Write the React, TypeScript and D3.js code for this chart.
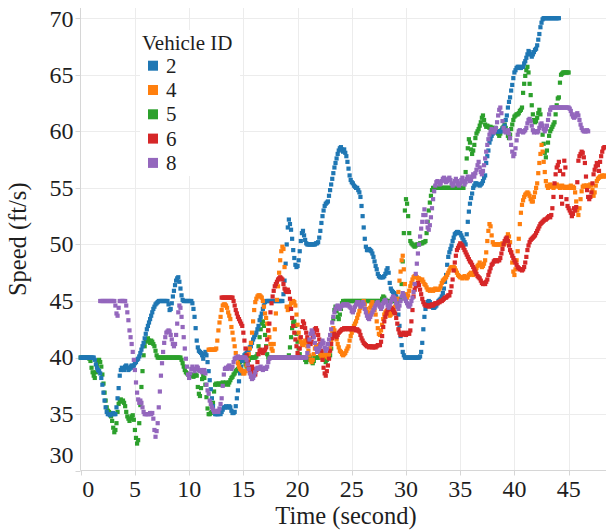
import React from 'react';
import * as d3 from 'd3';

// Canvas
const WIDTH = 606;
const HEIGHT = 530;

// Axes
const xTicks = [0, 5, 10, 15, 20, 25, 30, 35, 40, 45];
const yTicks = [30, 35, 40, 45, 50, 55, 60, 65, 70];
const xDomain = [0, 49];
const yDomain = [30, 70.9];

// Vehicles (legend order) and their colours
const vehicleIds = ['2', '4', '5', '6', '8'];
const vehicleColors = ['#1f77b4', '#ff7f0e', '#2ca02c', '#d62728', '#9467bd'];
// Second at which each vehicle's first speed row begins
const firstSecond = [0, 11, 0, 13, 1];

// Speed (ft/s) sampled every 0.1 s; one row per second
const speed2 = [
  [40, 40, 40, 40, 40, 40, 40, 40, 40, 40],
  [40, 40, 40, 39.8, 39.4, 39.1, 38.9, 38.8, 38.6, 38.2],
  [37.6, 36.9, 36.2, 35.6, 35.2, 35.0, 35.0, 34.9, 35.0, 35.0],
  [35.1, 35.0, 35.0, 35.6, 36.4, 37.3, 38.4, 38.9, 39.1, 39.0],
  [38.9, 39.2, 39.3, 39.1, 38.9, 39.0, 39.2, 39.3, 39.1, 39.3],
  [39.5, 39.6, 39.8, 39.9, 40.1, 40.4, 40.7, 41.0, 41.3, 41.7],
  [42.1, 42.5, 42.8, 43.1, 43.4, 43.7, 44.0, 44.3, 44.5, 44.7],
  [44.8, 44.9, 45, 45, 45, 45, 45, 45, 45, 45],
  [45.0, 44.7, 44.2, 44.3, 44.8, 45.4, 45.9, 46.4, 46.8, 47.0],
  [47.1, 46.7, 46.1, 45.5, 45.1, 45, 45, 45, 45, 45],
  [45, 45, 45, 44.8, 44.3, 43.6, 42.6, 41.5, 40.9, 40.6],
  [40.5, 40.4, 40.2, 39.9, 40.3, 40.5, 40.2, 39.6, 38.8, 38.0],
  [37.2, 36.4, 35.7, 35.2, 35.0, 35.0, 35.0, 35.0, 35.1, 35.0],
  [35.2, 35.4, 35.6, 35.6, 35.7, 35.6, 35.6, 35.7, 35.6, 35.3],
  [35.1, 35.1, 35.2, 35.7, 36.4, 37.1, 37.9, 38.6, 39.2, 39.7],
  [40.0, 40.2, 40.3, 40.4, 40.6, 40.7, 40.9, 41.0, 41.3, 41.6],
  [41.8, 42.0, 42.2, 42.5, 42.8, 43.3, 43.6, 43.9, 44.3, 44.6],
  [44.9, 45, 45, 45, 45, 45, 45, 45, 45, 45],
  [45, 45, 45, 45, 45, 45, 45, 45.6, 46.8, 48.3],
  [50.0, 51.5, 52.2, 51.8, 51.3, 50.5, 49.5, 48.8, 48.2, 48.0],
  [48.1, 48.6, 49.4, 50.3, 51.0, 51.2, 50.8, 50.4, 50.1, 50.0],
  [50, 50, 50, 50, 50, 50, 50, 50.1, 50.1, 50.2],
  [50.6, 51.2, 51.9, 52.5, 53.0, 53.4, 53.6, 53.7, 53.8, 54.3],
  [54.8, 55.3, 55.8, 56.3, 56.8, 57.2, 57.6, 58.0, 58.3, 58.5],
  [58.6, 58.4, 58.2, 58.4, 58.1, 57.8, 57.3, 56.7, 56.1, 55.7],
  [55.5, 55.4, 55.2, 55.1, 55.0, 55.0, 54.8, 54.6, 54.2, 53.4],
  [52.5, 51.5, 50.5, 49.8, 49.5, 49.5, 49.6, 49.5, 49.4, 49.2],
  [48.9, 48.5, 48.1, 47.8, 47.4, 47.2, 47.1, 47.1, 47.1, 47.1],
  [47.2, 47.4, 47.7, 47.9, 47.5, 46.6, 46.1, 45.9, 45.8, 45.7],
  [45.6, 45.4, 44.8, 43.8, 42.8, 41.9, 41.1, 40.5, 40.2, 40.0],
  [40, 40, 40, 40, 40, 40, 40, 40, 40, 40],
  [40, 40, 40, 40.1, 40.5, 41.3, 42.5, 43.6, 44.3, 44.7],
  [44.9, 45.0, 44.9, 44.7, 44.5, 44.4, 44.4, 44.5, 44.6, 44.8],
  [45.0, 45.1, 45.2, 45.4, 45.7, 46.1, 46.7, 47.3, 48.2, 48.9],
  [49.3, 49.6, 49.9, 50.3, 50.6, 50.9, 51.0, 51.1, 51.1, 51.0],
  [51.0, 50.8, 50.6, 50.4, 50.2, 50.0, 50.9, 52.0, 52.9, 53.6],
  [54.1, 54.5, 55.0, 55.2, 55.4, 55.4, 55.3, 55.3, 55.2, 55.3],
  [55.4, 55.6, 55.9, 56.1, 57.2, 57.8, 58.3, 59.0, 59.3, 59.6],
  [59.8, 59.9, 60, 60, 60, 60, 60, 60, 60, 60.2],
  [60.3, 60.5, 61.0, 61.4, 62.1, 62.6, 63.0, 63.6, 64.1, 64.7],
  [65.2, 65.4, 65.6, 65.7, 65.7, 65.6, 65.6, 65.7, 65.7, 66.0],
  [66.2, 66.5, 66.8, 67.1, 67.0, 66.8, 66.6, 66.8, 67.0, 67.2],
  [67.3, 67.6, 68.1, 68.6, 69.2, 69.6, 69.9, 70, 70, 70],
  [70, 70, 70, 70, 70, 70, 70, 70, 70, 70],
  [70, 70],
];

const speed4 = [
  [null, null, null, null, null, null, null, null, 40.7, 40.7],
  [40.7, 40.7, 40.7, 40.7, 40.7, 40.8, 41.5, 42.4, 43.1, 43.6],
  [44.2, 44.6, 44.7, 44.7, 44.6, 44.4, 44.0, 43.7, 43.4, 42.7],
  [42.2, 41.6, 41.0, 40.4, 39.9, 39.5, 39.2, 39.0, 38.9, 38.8],
  [38.6, 38.6, 38.8, 39.3, 39.8, 40.3, 40.8, 41.3, 42.2, 43.2],
  [44.2, 44.9, 45.2, 45.4, 45.5, 45.5, 45.4, 45.3, 45.0, 44.5],
  [43.9, 43.5, 43.0, 42.4, 41.8, 41.2, 40.8, 40.6, 41.2, 42.5],
  [43.9, 45.1, 46.3, 47.5, 48.6, 49.4, 49.8, 49.6, 48.0, 46.0],
  [44.5, 44.2, 44.3, 44.5, 44.8, 44.9, 45.0, 44.9, 44.6, 43.8],
  [42.9, 42.2, 41.7, 41.4, 41.2, 41.1, 41.3, 41.5, 41.3, 41.0],
  [40.6, 40.2, 39.8, 39.6, 39.8, 40.3, 40.8, 41.1, 41.0, 40.8],
  [40.6, 40.3, 40.1, 40.0, 40.2, 40.4, 40.3, 40.1, 40.0, 40.3],
  [40.8, 41.5, 42.2, 42.6, 42.4, 42.0, 41.6, 41.2, 40.9, 40.6],
  [40.5, 40.3, 40.2, 40.3, 40.4, 40.6, 40.8, 41.0, 41.5, 41.9],
  [42.2, 42.5, 42.8, 43.0, 43.2, 43.5, 43.8, 44.1, 44.4, 44.6],
  [44.8, 45.0, 44.7, 44.3, 44.0, 43.8, 44.0, 44.4, 44.7, 44.9],
  [44.6, 44.2, 43.8, 43.2, 42.6, 42.1, 42.0, 42.4, 42.9, 43.4],
  [43.8, 44.0, 44.1, 44.0, 43.9, 43.7, 43.8, 44.0, 44.2, 44.3],
  [44.5, 44.8, 45.2, 45.8, 46.8, 47.6, 48.6, 49.0, 47.8, 46.5],
  [45.6, 45.3, 45.5, 45.9, 46.3, 46.6, 46.9, 47.1, 47.2, 47.2],
  [47.1, 47.0, 47.0, 46.9, 46.8, 46.9, 46.7, 46.5, 46.4, 46.2],
  [46.0, 46.0, 45.9, 46.0, 46.0, 45.9, 46.0, 46.1, 46.0, 46.0],
  [46.0, 46.1, 46.3, 46.6, 46.8, 46.9, 47.0, 47.1, 47.3, 47.5],
  [47.7, 47.9, 48.0, 48.0, 48.0, 47.9, 47.7, 47.5, 47.3, 47.2],
  [47.1, 47.1, 47.0, 47.1, 47.2, 47.1, 47.0, 47.1, 47.3, 47.4],
  [47.5, 47.4, 47.3, 47.5, 47.7, 47.9, 48.1, 48.2, 48.4, 48.2],
  [48.0, 48.1, 48.3, 48.6, 49.3, 50.3, 51.2, 51.8, 51.6, 50.8],
  [50.2, 50.0, 50, 50, 50, 50, 50, 50, 50, 50.1],
  [50.0, 50.1, 50.3, 50.6, 50.9, 50.7, 50.2, 49.3, 48.4, 47.6],
  [47.3, 47.8, 48.6, 49.4, 50.5, 51.8, 52.8, 53.5, 53.9, 54.2],
  [54.4, 54.5, 54.6, 54.5, 54.3, 54.0, 53.8, 53.8, 54.2, 54.6],
  [55.0, 55.4, 56.3, 57.2, 58.0, 58.8, 58.2, 57.3, 56.4, 55.6],
  [55.2, 55.0, 55.1, 55.3, 55.2, 55.1, 55.0, 55.1, 55.2, 55.3],
  [55.2, 55.1, 55.0, 55.1, 55.2, 55.1, 55.0, 55.0, 55.1, 55.0],
  [55.0, 55.1, 55.2, 55.0, 55.1, 55.0, 54.6, 53.8, 53.0, 52.6],
  [53.2, 54.0, 54.7, 55.1, 55.2, 55.1, 55.2, 55.2, 55.1, 55.2],
  [55.3, 55.2, 54.8, 54.3, 54.6, 55.2, 55.6, 55.8, 55.9, 56.0],
  [56.0, 56.1, 56.0, 56.1, 56.0],
];

const speed5 = [
  [40, 40, 40, 40, 40, 40, 40, 40, 39.9, 39.7],
  [39.1, 38.7, 38.4, 38.2, 38.7, 39.4, 39.7, 39.8, 39.6, 39.2],
  [38.5, 37.7, 36.9, 36.2, 35.6, 35.3, 35.2, 35.1, 34.8, 34.4],
  [33.8, 33.4, 33.6, 34.2, 35.2, 35.9, 36.2, 36.3, 36.1, 36.2],
  [36.0, 35.7, 35.2, 34.8, 34.6, 34.4, 34.6, 34.8, 34.9, 34.5],
  [33.6, 32.9, 32.4, 32.7, 34.2, 35.8, 37.4, 38.8, 40.2, 41.0],
  [41.4, 41.6, 41.7, 41.5, 41.3, 41.5, 41.4, 41.2, 41.0, 40.6],
  [40.2, 40, 40, 40, 40, 40, 40, 40, 40, 40],
  [40, 40, 40, 40, 40, 40, 40, 40, 40, 40],
  [40, 40, 40, 39.8, 39.5, 39.2, 38.9, 38.7, 38.6, 38.5],
  [38.5, 38.4, 38.5, 38.4, 38.3, 38.4, 38.5, 38.4, 37.4, 36.8],
  [36.6, 37.3, 38.1, 38.4, 38.2, 37.6, 36.5, 35.5, 35.0, 35.0],
  [35.1, 35.2, 36.0, 37.0, 37.6, 37.7, 37.6, 37.7, 37.7, 37.6],
  [37.7, 37.8, 37.6, 37.7, 37.8, 37.7, 37.6, 37.8, 38.0, 38.2],
  [38.3, 38.5, 38.6, 38.8, 38.9, 39.0, 39.3, 39.6, 39.8, 40.0],
  [40.0, 39.7, 39.4, 39.2, 39.5, 39.8, 40, 40, 40, 40],
  [40, 40, 40.1, 40.3, 41.0, 41.8, 42.5, 43.0, 43.2, 42.8],
  [42.0, 41.0, 40.3, 40, 40, 40, 40, 40, 40, 40],
  [40, 40, 40, 40, 40, 40, 40, 40, 40, 40],
  [40, 40, 40.2, 40.9, 41.8, 42.6, 43.1, 43.2, 42.8, 42.1],
  [41.4, 40.8, 40.3, 40, 40, 40, 40, 39.8, 39.6, 39.8],
  [40, 40, 40, 39.7, 39.5, 39.7, 40, 40, 40, 40],
  [40, 40.2, 40.5, 40.3, 40, 39.8, 39.6, 39.8, 40, 40],
  [40.2, 40.8, 42.0, 43.4, 44.2, 44.5, 44.1, 43.6, 43.4, 43.8],
  [44.3, 44.8, 45, 45, 45, 45, 45, 45, 45, 45],
  [45, 45, 45, 45, 45, 45, 45, 45, 45, 45],
  [45, 45, 45, 45, 45, 45, 45, 45, 45, 45],
  [45, 45, 45, 45, 45, 45, 45, 45, 45.2, 45.4],
  [45.3, 45.1, 45, 45, 45, 45, 45, 45, 45, 45],
  [45, 45, 45, 45, 45, 45.2, 46.5, 48.5, 51.0, 53.0],
  [54.0, 53.6, 52.5, 51.0, 50.3, 50.1, 50.0, 49.9, 49.8, 49.9],
  [50.0, 50.0, 50.0, 50.1, 50.1, 50.1, 50.2, 50.2, 50.3, 51.0],
  [52.0, 53.0, 53.7, 54.3, 54.8, 55, 55, 55, 55, 55],
  [55, 55, 55, 55, 55, 55, 55, 55, 55, 55],
  [55, 55, 55, 55, 55, 55, 55, 55, 55, 55],
  [55, 55, 55, 55, 55.5, 56.4, 57.6, 58.5, 59.3, 59.0],
  [58.4, 58.0, 58.3, 58.8, 59.4, 59.8, 60.0, 60.2, 60.5, 60.8],
  [61.2, 61.4, 61.0, 60.6, 60.4, 60.5, 60.4, 60.3, 60.4, 60.3],
  [60.3, 60.2, 60.3, 60.2, 60.0, 59.8, 59.6, 59.8, 60.1, 60.3],
  [60.4, 60.6, 60.3, 60.0, 59.6, 59.4, 59.7, 60.2, 60.6, 61.0],
  [61.3, 61.4, 61.5, 61.5, 61.6, 61.8, 61.9, 62.1, 63.4, 64.2],
  [64.9, 65.4, 65.7, 65.2, 64.2, 63.2, 62.3, 61.5, 61.0, 60.8],
  [60.9, 61.2, 61.6, 61.9, 61.5, 60.5, 59.7, 58.9, 58.1, 57.7],
  [58.3, 59.0, 59.6, 60.0, 60.2, 60.4, 60.6, 60.8, 61.5, 62.3],
  [62.9, 63.0, 64.3, 65.0, 65.1, 65.2, 65.2, 65.2, 65.2, 65.2],
  [65.2],
];

const speed6 = [
  [45.3, 45.3, 45.3, 45.3, 45.3, 45.3, 45.3, 45.3, 45.3, 45.3],
  [45.3, 45.0, 44.6, 44.2, 43.9, 43.6, 43.4, 43.2, 43.0, 42.8],
  [42.2, 41.5, 40.8, 40.2, 39.6, 39.1, 38.8, 38.9, 39.2, 39.0],
  [38.6, 38.5, 38.9, 39.6, 40.3, 40.6, 40.7, 40.5, 40.4, 40.6],
  [40.7, 40.9, 41.6, 42.4, 43.0, 44.0, 44.8, 45.4, 45.9, 46.3],
  [46.5, 46.7, 46.9, 47.0, 47.1, 47.0, 46.9, 46.5, 46.1, 45.9],
  [45.8, 46.0, 45.8, 45.2, 44.3, 43.5, 42.8, 42.2, 41.6, 41.0],
  [40.4, 40.1, 40.8, 41.8, 42.7, 43.2, 43.0, 42.6, 42.2, 41.8],
  [41.5, 41.3, 41.2, 41.4, 41.8, 42.2, 42.5, 42.6, 42.4, 42.0],
  [41.6, 41.2, 40.6, 39.8, 39.1, 38.6, 38.4, 38.8, 39.3, 39.9],
  [40.6, 41.2, 41.7, 42.0, 42.1, 41.9, 41.8, 42.0, 42.2, 42.3],
  [42.4, 42.5, 42.5, 42.6, 42.5, 42.6, 42.6, 42.5, 42.6, 42.5],
  [42.6, 42.5, 42.6, 42.5, 42.4, 42.5, 42.4, 42.3, 42.0, 41.7],
  [41.5, 41.3, 41.2, 41.1, 41.0, 41.0, 40.9, 41.0, 41.0, 40.9],
  [40.9, 41.0, 40.9, 41.0, 41.1, 41.1, 41.1, 41.4, 41.9, 42.7],
  [43.2, 43.6, 43.9, 44.2, 44.3, 44.4, 44.4, 44.3, 44.2, 44.0],
  [43.9, 43.5, 43.0, 42.5, 42.2, 42.0, 42.0, 42.1, 42.2, 42.1],
  [42.0, 42.1, 42.2, 42.1, 42.4, 43.2, 44.2, 45.4, 46.0, 46.3],
  [46.5, 46.6, 46.4, 46.0, 45.6, 45.2, 44.9, 44.7, 44.6, 44.6],
  [44.6, 44.5, 44.6, 44.6, 44.7, 44.6, 44.7, 44.8, 44.8, 44.8],
  [44.9, 44.9, 45.0, 45.0, 45.1, 45.2, 45.3, 45.3, 45.4, 45.5],
  [45.5, 45.8, 46.3, 46.9, 47.7, 48.4, 49.0, 49.5, 49.7, 49.9],
  [50.1, 50.0, 49.9, 49.7, 49.5, 49.3, 49.1, 48.9, 48.7, 48.5],
  [48.4, 48.2, 48.0, 47.8, 47.6, 47.4, 47.2, 47.1, 47.0, 46.8],
  [46.6, 46.5, 46.6, 46.5, 46.7, 46.9, 47.3, 47.6, 47.9, 48.2],
  [48.3, 48.5, 48.6, 48.6, 48.5, 48.6, 48.6, 48.8, 49.2, 49.6],
  [50.0, 50.3, 50.5, 50.6, 50.3, 49.9, 49.5, 49.3, 49.0, 48.8],
  [48.6, 48.4, 48.2, 48.0, 47.9, 47.8, 47.8, 47.7, 47.8, 48.0],
  [48.4, 48.9, 49.5, 49.9, 50.2, 50.4, 50.5, 50.6, 50.7, 50.8],
  [51.0, 51.2, 51.4, 51.6, 51.8, 51.9, 52.0, 52.1, 52.2, 52.2],
  [52.3, 52.4, 52.5, 52.4, 52.6, 53.2, 54.2, 55.4, 56.2, 56.8],
  [57.0, 57.3, 56.5, 54.2, 53.6, 56.2, 57.4, 56.8, 54.0, 53.4],
  [53.2, 53.0, 52.8, 52.5, 52.7, 53.2, 53.0, 53.3, 55.5, 57.4],
  [57.8, 58.0, 58.2, 58.1, 57.7, 57.2, 56.0, 54.8, 54.2, 54.0],
  [54.2, 54.6, 55.4, 56.2, 56.6, 56.9, 57.2, 57.0, 56.5, 57.3],
  [57.8, 58.2, 58.5, 58.6, 58.6],
];

const speed8 = [
  [null, null, null, null, null, null, null, null, 45, 45],
  [45, 45, 45, 45, 45, 45, 45, 45, 45, 45],
  [45, 45, 44.6, 43.9, 43.7, 44.4, 45, 45, 45, 45],
  [45, 45, 44.6, 44.0, 43.3, 42.4, 41.8, 41.2, 40.5, 39.8],
  [38.9, 37.8, 36.9, 36.3, 36.0, 36.2, 36.0, 35.6, 35.2, 35.0],
  [35.0, 35.0, 35.0, 35.0, 35.1, 35.0, 35.1, 34.6, 33.6, 33.0],
  [33.5, 34.2, 35.6, 37.0, 38.4, 39.5, 40.5, 41.3, 41.8, 42.2],
  [42.3, 42.4, 42.3, 42.0, 41.6, 41.2, 41.0, 41.2, 42.0, 43.0],
  [44.0, 44.6, 44.4, 43.6, 42.7, 41.8, 40.8, 39.9, 39.2, 38.5],
  [38.2, 38.6, 39.0, 39.2, 39.0, 38.8, 39.0, 39.2, 39.1, 38.9],
  [38.8, 38.9, 38.7, 38.8, 38.9, 38.6, 37.6, 37.1, 36.8, 36.2],
  [35.9, 35.6, 35.4, 35.2, 35.2, 35.2, 35.3, 35.2, 35.5, 35.9],
  [36.4, 37.5, 38.5, 39.0, 39.1, 39.0, 39.2, 39.3, 39.1, 39.0],
  [39.2, 39.6, 39.9, 40.0, 40.0, 40.1, 40.0, 40.0, 40.0, 40.0],
  [40.0, 40.0, 40.0, 39.8, 39.4, 39.0, 38.6, 38.3, 38.1, 38.2],
  [38.4, 38.7, 39.0, 39.1, 39.0, 39.1, 39.2, 39.0, 38.9, 39.0],
  [39.1, 39.0, 39.2, 39.6, 39.9, 40, 40, 40, 40, 40],
  [40, 40, 40, 40, 40, 40, 40, 40, 40, 40],
  [40, 40, 40, 40, 40, 40, 40, 40, 40, 40],
  [40, 40, 40, 40, 40, 40, 40, 40, 40, 40.4],
  [41.0, 41.6, 42.1, 42.4, 42.2, 41.8, 41.3, 40.8, 40.5, 40.6],
  [40.8, 41.0, 41.2, 41.5, 41.3, 40.9, 40.6, 40.8, 41.2, 41.6],
  [42.0, 42.5, 43.1, 43.6, 44.0, 44.3, 44.5, 44.6, 44.5, 44.3],
  [44.5, 44.6, 44.7, 44.7, 44.6, 44.7, 44.7, 44.6, 44.5, 44.4],
  [44.1, 44.0, 44.2, 44.5, 44.7, 44.9, 44.9, 44.7, 44.5, 44.6],
  [44.9, 44.7, 44.3, 44.0, 43.7, 43.5, 43.4, 43.6, 43.8, 44.0],
  [44.2, 44.4, 44.6, 44.8, 44.9, 44.7, 44.5, 44.3, 44.5, 44.8],
  [45.0, 45.1, 44.9, 44.6, 44.4, 44.6, 44.9, 45.2, 45.4, 45.3],
  [45.1, 44.8, 44.5, 44.3, 44.6, 45.0, 45.4, 45.7, 45.5, 45.2],
  [45.0, 44.8, 44.6, 44.5, 44.7, 45.0, 45.3, 45.8, 46.5, 47.4],
  [48.3, 49.2, 50.0, 50.7, 51.4, 52.0, 52.6, 53.1, 52.6, 52.0],
  [51.5, 51.3, 51.7, 52.4, 53.2, 54.0, 54.7, 55.2, 55.5, 55.6],
  [55.5, 55.3, 55.4, 55.6, 55.8, 55.9, 55.7, 55.5, 55.6, 55.8],
  [55.9, 55.7, 55.4, 55.2, 55.3, 55.6, 55.8, 55.6, 55.3, 55.2],
  [55.4, 55.7, 55.9, 55.6, 55.3, 55.5, 55.8, 56.0, 55.8, 55.6],
  [55.7, 56.0, 56.2, 56.0, 56.3, 56.6, 57.0, 57.3, 56.8, 56.4],
  [56.2, 56.5, 57.0, 57.6, 58.2, 58.8, 59.3, 59.7, 60.0, 60.2],
  [60.0, 59.9, 60.1, 60.3, 60.8, 61.4, 61.9, 62.1, 61.6, 60.9],
  [60.3, 60.0, 59.9, 60.0, 60.1, 59.8, 59.4, 58.8, 58.2, 57.8],
  [58.0, 58.5, 59.2, 59.7, 60.0, 60.1, 60.0, 60.0, 59.9, 60.0],
  [60.1, 60.3, 60.7, 61.0, 61.1, 60.9, 60.5, 60.1, 59.9, 60.0],
  [60.0, 59.9, 60.0, 60.3, 60.6, 60.7, 60.5, 60.2, 60.0, 60.2],
  [60.5, 61.0, 61.5, 61.9, 62.1, 62.1, 62.1, 62.1, 62.1, 62.1],
  [62.1, 62.1, 62.1, 62.1, 62.1, 62.1, 62.1, 62.1, 62.1, 62.1],
  [62.1, 62.0, 61.8, 61.5, 61.3, 61.2, 61.3, 61.5, 61.6, 61.4],
  [61.0, 60.6, 60.3, 60.1, 60.0, 60.0, 60.0, 60.1, 60.0],
];

const speedTables = [speed2, speed4, speed5, speed6, speed8];
// Paint order of the vehicles (later ones sit on top)
const paintOrder = ['5', '2', '4', '6', '8'];

const SERIF = "'Liberation Serif', 'Times New Roman', Times, serif";
const TEXT = '#1e1e1e';
const GRID = '#ececec';
const AXIS = '#d6d6d6';
const MARK = 4.2;

type Pt = { t: number; v: number };

function toPoints(rows: (number | null)[][], start: number): Pt[] {
  const out: Pt[] = [];
  rows.forEach((row, r) => {
    row.forEach((v, i) => {
      if (v === null || v === undefined) return;
      out.push({ t: +(start + r + i / 10).toFixed(1), v });
    });
  });
  return out;
}

export default function App() {
  const x = d3.scaleLinear().domain(xDomain).range([80.7, 612]);
  const y = d3.scaleLinear().domain(yDomain).range([470.7, 8]);
  const left = 80.5;
  const bottom = 470.5;
  const top = 8;

  const series = vehicleIds.map((id, k) => ({
    id,
    color: vehicleColors[k],
    points: toPoints(speedTables[k] as (number | null)[][], firstSecond[k]),
  }));
  const painted = paintOrder.map((id) => series.find((s) => s.id === id)!);

  const px = (v: number) => Math.round(v) + 0.5;

  return (
    <svg
      width={WIDTH}
      height={HEIGHT}
      viewBox={`0 0 ${WIDTH} ${HEIGHT}`}
      style={{ position: 'absolute', left: 0, top: 0, background: '#fff' }}
    >
      <rect x={0} y={0} width={WIDTH} height={HEIGHT} fill="#fff" />

      {/* grid */}
      <g stroke={GRID} strokeWidth={1}>
        {xTicks.filter((t) => t !== 0).map((t) => (
          <line key={`gx${t}`} x1={px(x(t))} x2={px(x(t))} y1={top} y2={bottom} />
        ))}
        {yTicks.filter((t) => t !== 30).map((t) => (
          <line key={`gy${t}`} x1={left} x2={WIDTH} y1={px(y(t))} y2={px(y(t))} />
        ))}
      </g>

      {/* axes */}
      <g stroke={AXIS} strokeWidth={1}>
        <line x1={left} x2={left} y1={top} y2={bottom} />
        <line x1={left} x2={WIDTH} y1={bottom} y2={bottom} />
        {xTicks.map((t) => (
          <line key={`tx${t}`} x1={px(x(t))} x2={px(x(t))} y1={bottom} y2={bottom + 5} />
        ))}
        {yTicks.map((t) => (
          <line key={`ty${t}`} x1={left - 5} x2={left} y1={px(y(t))} y2={px(y(t))} />
        ))}
      </g>

      {/* points */}
      <g>
        {painted.map((s) => (
          <g key={s.id} fill={s.color}>
            {s.points.map((p, i) => (
              <rect
                key={i}
                x={x(p.t) - MARK / 2}
                y={y(p.v) - MARK / 2}
                width={MARK}
                height={MARK}
              />
            ))}
          </g>
        ))}
      </g>

      {/* tick labels */}
      <g fontFamily={SERIF} fontSize={24} fill={TEXT}>
        {xTicks.map((t, i) => (
          <text
            key={`lx${t}`}
            x={i === 0 ? x(t) + 1.5 : x(t)}
            y={496.5}
            textAnchor={i === 0 ? 'start' : 'middle'}
          >
            {t}
          </text>
        ))}
        {yTicks.map((t, i) => {
          let base = y(t) + 7.9;
          if (i === 0) base = 463;
          if (i === yTicks.length - 1) base = 27.4;
          return (
            <text key={`ly${t}`} x={73.5} y={base} textAnchor="end">
              {t}
            </text>
          );
        })}
      </g>

      {/* axis titles */}
      <text
        x={346}
        y={524}
        textAnchor="middle"
        fontFamily={SERIF}
        fontSize={24.5}
        fill={TEXT}
      >
        Time (second)
      </text>
      <text
        transform={`translate(25.5, ${(top + bottom) / 2}) rotate(-90)`}
        textAnchor="middle"
        fontFamily={SERIF}
        fontSize={24.5}
        fill={TEXT}
      >
        Speed (ft/s)
      </text>

      {/* legend */}
      <g fontFamily={SERIF} fill={TEXT}>
        <rect x={140} y={30} width={100} height={146} fill="#fff" />
        <text x={142} y={50} fontSize={21}>
          Vehicle ID
        </text>
        {series.map((s, i) => {
          const cy = 65.7 + i * 24.3;
          return (
            <g key={`lg${s.id}`}>
              <rect x={148} y={cy - 5} width={10} height={10} fill={s.color} />
              <text x={166} y={cy + 7} fontSize={21}>
                {s.id}
              </text>
            </g>
          );
        })}
      </g>
    </svg>
  );
}
